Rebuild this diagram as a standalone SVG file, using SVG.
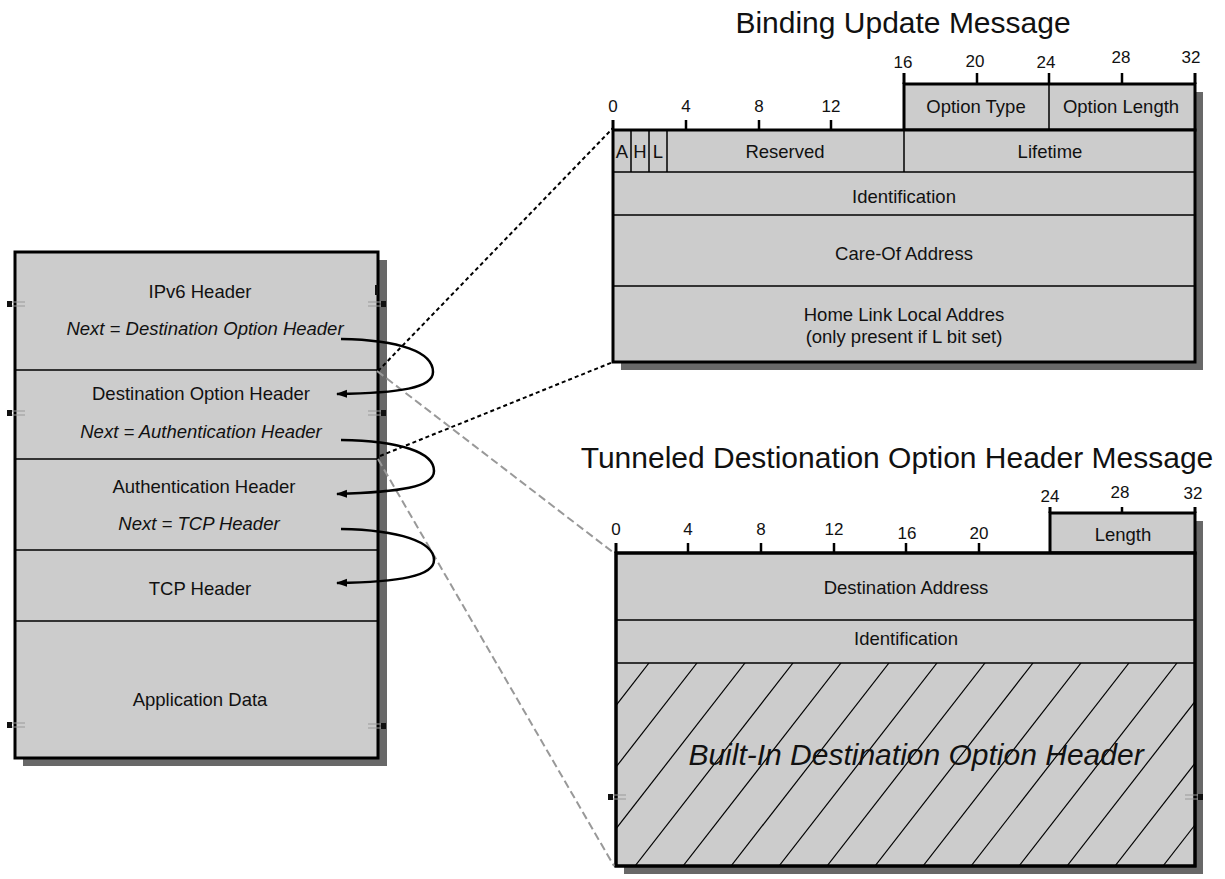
<svg xmlns="http://www.w3.org/2000/svg" width="1225" height="879" viewBox="0 0 1225 879">
  <defs>
    <style>
      .box { fill: #cccccc; stroke: #000; stroke-width: 3; }
      .shadow { fill: #686868; }
      .thick { stroke: #000; stroke-width: 3; fill: none; }
      .tick { stroke: #000; stroke-width: 2.5; fill: none; }
      .div { stroke: #000; stroke-width: 1.5; fill: none; }
      .hatch { stroke: #000; stroke-width: 1.2; fill: none; }
      text { font-family: "Liberation Sans", Arial, Helvetica, sans-serif; fill: #111; }
      .t { font-size: 18.5px; text-anchor: middle; }
      .ti { font-size: 18.5px; text-anchor: middle; font-style: italic; }
      .num { font-size: 17px; text-anchor: middle; }
      .title { font-size: 30px; text-anchor: middle; }
      .big { font-size: 30px; text-anchor: middle; font-style: italic; }
      .next { stroke: #000; stroke-width: 2.5; fill: none; marker-end: url(#ah); }
      .dot { stroke: #000; stroke-width: 2; stroke-dasharray: 4 3; fill: none; }
      .dash { stroke: #999; stroke-width: 2; stroke-dasharray: 8 4; fill: none; }
      .pinline { stroke: #9a9a9a; stroke-width: 1; }
    </style>
    <marker id="ah" markerWidth="12" markerHeight="10" refX="10" refY="5" orient="auto" markerUnits="userSpaceOnUse">
      <path d="M0,1 L11,5 L0,9 z" fill="#000"/>
    </marker>
    <!-- connection pin glyphs on shape edges -->
    <g id="pinL">
      <line class="pinline" x1="-8" y1="-2" x2="10" y2="-2"/>
      <line class="pinline" x1="-8" y1="2" x2="10" y2="2"/>
      <rect x="-8" y="-3" width="5" height="6" fill="#111"/>
    </g>
    <g id="pinR">
      <line class="pinline" x1="-10" y1="-2" x2="8" y2="-2"/>
      <line class="pinline" x1="-10" y1="2" x2="8" y2="2"/>
      <rect x="3" y="-3" width="5" height="6" fill="#111"/>
    </g>
    <clipPath id="hatchClip">
      <rect x="616" y="663" width="579" height="203"/>
    </clipPath>
  </defs>

  <!-- packet stack -->
  <g id="packet-stack">
    <rect class="shadow" x="23" y="260" width="364" height="506"/>
    <rect class="box" x="15" y="252" width="363" height="506"/>
    <line class="div" x1="15" y1="370" x2="378" y2="370"/>
    <line class="div" x1="15" y1="459" x2="378" y2="459"/>
    <line class="div" x1="15" y1="550" x2="378" y2="550"/>
    <line class="div" x1="15" y1="621" x2="378" y2="621"/>
    <rect x="375" y="285" width="3" height="10" fill="#111"/>
    <use href="#pinL" x="15" y="304"/>
    <use href="#pinL" x="15" y="413"/>
    <use href="#pinL" x="15" y="725"/>
    <use href="#pinR" x="378" y="304"/>
    <use href="#pinR" x="378" y="413"/>
    <use href="#pinR" x="378" y="726"/>
  </g>
  <g id="ipv6-header">
    <text class="t" x="200" y="298">IPv6 Header</text>
    <text class="ti" x="205" y="335">Next = Destination Option Header</text>
  </g>
  <g id="destination-option-header">
    <text class="t" x="201" y="400">Destination Option Header</text>
    <text class="ti" x="201" y="438">Next = Authentication Header</text>
  </g>
  <g id="authentication-header">
    <text class="t" x="204" y="493">Authentication Header</text>
    <text class="ti" x="199" y="530">Next = TCP Header</text>
  </g>
  <g id="tcp-header">
    <text class="t" x="200" y="595">TCP Header</text>
  </g>
  <g id="application-data">
    <text class="t" x="200" y="706">Application Data</text>
  </g>

  <!-- Binding Update Message layout -->
  <g id="binding-update">
    <text class="title" x="903" y="33">Binding Update Message</text>
    <rect class="shadow" x="912" y="92" width="291" height="46"/>
    <rect class="shadow" x="621" y="138" width="582" height="232"/>
    <rect class="box" x="904" y="84" width="291" height="46"/>
    <rect class="box" x="613" y="130" width="582" height="232"/>
    <!-- bit ruler -->
    <line class="thick" x1="613" y1="120" x2="613" y2="130"/>
    <line class="tick" x1="686" y1="120" x2="686" y2="130"/>
    <line class="tick" x1="759" y1="120" x2="759" y2="130"/>
    <line class="tick" x1="831" y1="120" x2="831" y2="130"/>
    <line class="thick" x1="904" y1="73" x2="904" y2="84"/>
    <line class="tick" x1="977" y1="73" x2="977" y2="84"/>
    <line class="tick" x1="1049" y1="73" x2="1049" y2="84"/>
    <line class="tick" x1="1122" y1="73" x2="1122" y2="84"/>
    <line class="thick" x1="1195" y1="73" x2="1195" y2="84"/>
    <text class="num" x="613" y="112">0</text>
    <text class="num" x="686" y="112">4</text>
    <text class="num" x="759" y="112">8</text>
    <text class="num" x="831" y="112">12</text>
    <text class="num" x="903" y="68">16</text>
    <text class="num" x="975" y="67">20</text>
    <text class="num" x="1046" y="68">24</text>
    <text class="num" x="1121" y="63">28</text>
    <text class="num" x="1191" y="63">32</text>
    <!-- fields -->
    <line class="div" x1="1049" y1="84" x2="1049" y2="130"/>
    <line class="div" x1="631" y1="130" x2="631" y2="172"/>
    <line class="div" x1="649" y1="130" x2="649" y2="172"/>
    <line class="div" x1="667" y1="130" x2="667" y2="172"/>
    <line class="div" x1="904" y1="130" x2="904" y2="172"/>
    <line class="div" x1="613" y1="172" x2="1195" y2="172"/>
    <line class="div" x1="613" y1="215" x2="1195" y2="215"/>
    <line class="div" x1="613" y1="286" x2="1195" y2="286"/>
    <text class="t" x="976" y="113">Option Type</text>
    <text class="t" x="1121" y="113">Option Length</text>
    <text class="t" x="622" y="158">A</text>
    <text class="t" x="640" y="158">H</text>
    <text class="t" x="658" y="158">L</text>
    <text class="t" x="785" y="158">Reserved</text>
    <text class="t" x="1050" y="158">Lifetime</text>
    <text class="t" x="904" y="203">Identification</text>
    <text class="t" x="904" y="260">Care-Of Address</text>
    <text class="t" x="904" y="321">Home Link Local Addres</text>
    <text class="t" x="904" y="343">(only present if L bit set)</text>
  </g>

  <!-- Tunneled Destination Option Header layout -->
  <g id="tunneled-destination-option">
    <text class="title" x="897" y="468">Tunneled Destionation Option Header Message</text>
    <rect class="shadow" x="1058" y="521" width="145" height="40"/>
    <rect class="shadow" x="624" y="561" width="579" height="313"/>
    <rect class="box" x="1050" y="513" width="145" height="40"/>
    <rect class="box" x="616" y="553" width="579" height="313"/>
    <!-- hatched embedded header -->
    <g clip-path="url(#hatchClip)">
      <line class="hatch" x1="505" y1="663" x2="347" y2="866"/>
      <line class="hatch" x1="553" y1="663" x2="395" y2="866"/>
      <line class="hatch" x1="601" y1="663" x2="443" y2="866"/>
      <line class="hatch" x1="649" y1="663" x2="491" y2="866"/>
      <line class="hatch" x1="697" y1="663" x2="539" y2="866"/>
      <line class="hatch" x1="745" y1="663" x2="587" y2="866"/>
      <line class="hatch" x1="793" y1="663" x2="635" y2="866"/>
      <line class="hatch" x1="841" y1="663" x2="683" y2="866"/>
      <line class="hatch" x1="889" y1="663" x2="731" y2="866"/>
      <line class="hatch" x1="937" y1="663" x2="779" y2="866"/>
      <line class="hatch" x1="985" y1="663" x2="827" y2="866"/>
      <line class="hatch" x1="1033" y1="663" x2="875" y2="866"/>
      <line class="hatch" x1="1081" y1="663" x2="923" y2="866"/>
      <line class="hatch" x1="1129" y1="663" x2="971" y2="866"/>
      <line class="hatch" x1="1177" y1="663" x2="1019" y2="866"/>
      <line class="hatch" x1="1225" y1="663" x2="1067" y2="866"/>
      <line class="hatch" x1="1273" y1="663" x2="1115" y2="866"/>
      <line class="hatch" x1="1321" y1="663" x2="1163" y2="866"/>
      <line class="hatch" x1="1369" y1="663" x2="1211" y2="866"/>
    </g>
    <rect x="616" y="553" width="579" height="313" fill="none" stroke="#000" stroke-width="3"/>
    <!-- bit ruler -->
    <line class="thick" x1="616" y1="543" x2="616" y2="553"/>
    <line class="tick" x1="688" y1="543" x2="688" y2="553"/>
    <line class="tick" x1="761" y1="543" x2="761" y2="553"/>
    <line class="tick" x1="834" y1="543" x2="834" y2="553"/>
    <line class="tick" x1="906" y1="543" x2="906" y2="553"/>
    <line class="tick" x1="979" y1="543" x2="979" y2="553"/>
    <line class="thick" x1="1050" y1="507" x2="1050" y2="513"/>
    <line class="tick" x1="1122" y1="507" x2="1122" y2="513"/>
    <line class="thick" x1="1195" y1="507" x2="1195" y2="513"/>
    <text class="num" x="616" y="535">0</text>
    <text class="num" x="688" y="535">4</text>
    <text class="num" x="761" y="535">8</text>
    <text class="num" x="834" y="535">12</text>
    <text class="num" x="907" y="539">16</text>
    <text class="num" x="979" y="539">20</text>
    <text class="num" x="1050" y="502">24</text>
    <text class="num" x="1120" y="498">28</text>
    <text class="num" x="1193" y="499">32</text>
    <!-- fields -->
    <line class="div" x1="616" y1="620" x2="1195" y2="620"/>
    <line class="div" x1="616" y1="663" x2="1195" y2="663"/>
    <text class="t" x="1123" y="541">Length</text>
    <text class="t" x="906" y="594">Destination Address</text>
    <text class="t" x="906" y="645">Identification</text>
    <text class="big" x="916" y="765">Built-In Destination Option Header</text>
    <use href="#pinL" x="616" y="797"/>
    <use href="#pinR" x="1195" y="797"/>
  </g>

  <!-- connectors -->
  <g id="connectors">
    <line class="dot" x1="378" y1="371" x2="613" y2="128"/>
    <line class="dot" x1="380" y1="456" x2="613" y2="362"/>
    <line class="dash" x1="377" y1="371" x2="614" y2="553"/>
    <line class="dash" x1="378" y1="459" x2="614" y2="866"/>
    <path class="next" d="M341,339 C400,340 433,352 433,372 C433,388 400,393 337,394"/>
    <path class="next" d="M341,440 C400,441 434,452 434,471 C434,487 400,492 337,494"/>
    <path class="next" d="M341,529 C400,530 434,542 434,560 C434,576 400,582 337,583"/>
  </g>
</svg>
